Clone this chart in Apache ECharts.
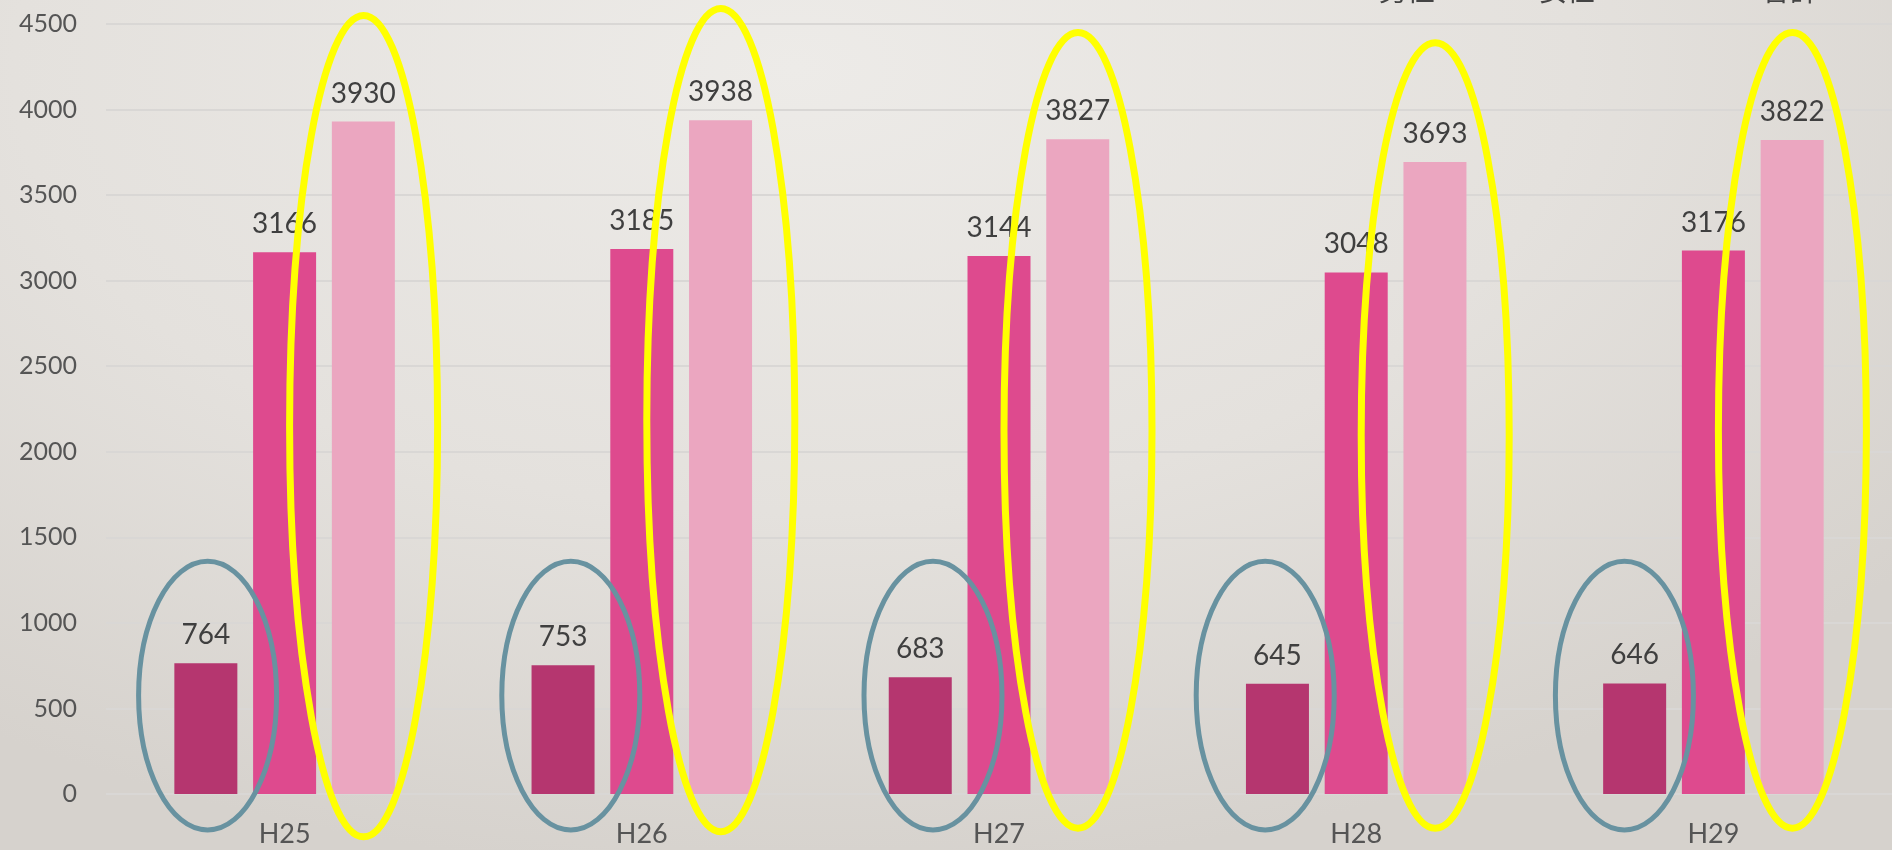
<!DOCTYPE html>
<html>
<head>
<meta charset="utf-8">
<script src="https://cdn.jsdelivr.net/npm/echarts@6/dist/echarts.min.js"></script>
<style>
html,body{margin:0;padding:0;width:1892px;height:850px;overflow:hidden;
background:radial-gradient(ellipse 75% 95% at 42% 8%, #edebe8 0%, #e4e1dd 55%, #d6d2cd 100%);}
#c{width:1892px;height:850px;}
</style>
</head>
<body>
<div id="c"></div>
<script>
const categories = ['H25','H26','H27','H28','H29'];
const seriesNames = ['男性','女性','合計'];
const valuesA = [764, 753, 683, 645, 646];
const valuesB = [3166, 3185, 3144, 3048, 3176];
const valuesTotal = [3930, 3938, 3827, 3693, 3822];
const yTicks = [0,500,1000,1500,2000,2500,3000,3500,4000,4500];
// annotation ellipses (value-space extents): [bottom, top]
const blueRings = [[-210,1360],[-210,1360],[-210,1360],[-210,1360],[-210,1360]];
const blueShift = [2, 8, 13, -12, -10];
const yellowRings = [[-250,4550],[-220,4590],[-200,4450],[-200,4390],[-200,4450]];

const chart = echarts.init(document.getElementById('c'), null, {renderer:'canvas'});
const colors = ['#b5366f','#de4a8e','#eba6c0'];
const labelStyle = {show:true, position:'top', distance:14, color:'#3f3f3f', fontSize:28, fontFamily:'Lato'};
const mk = (name, data, i) => ({
  name, type:'bar', data, barWidth:63, barGap:'25%',
  itemStyle:{color:colors[i]}, label:labelStyle, z:2
});
const legendLefts = [1355, 1515, 1738];
chart.setOption({
  animation:false,
  backgroundColor:'transparent',
  textStyle:{fontFamily:'Lato'},
  legend: seriesNames.map((n, i) => ({
    data:[n], top:-29, left:legendLefts[i], itemWidth:14, itemHeight:8,
    textStyle:{fontSize:28, color:'#444', fontFamily:'Noto Sans CJK JP'}
  })),
  grid:{left:106, right:0, top:24, bottom:56, containLabel:false},
  xAxis:{
    type:'category', data:categories,
    axisLine:{show:false}, axisTick:{show:false},
    axisLabel:{color:'#555', fontSize:27, margin:27}
  },
  yAxis:{
    type:'value', min:0, max:4500, interval:500,
    axisLabel:{color:'#555', fontSize:25, margin:29,
      formatter:v => yTicks.includes(v) ? String(v) : ''},
    splitLine:{lineStyle:{color:'#d9d7d5', width:2}}
  },
  series:[mk(seriesNames[0], valuesA, 0), mk(seriesNames[1], valuesB, 1), mk(seriesNames[2], valuesTotal, 2)]
});

// build annotation ellipses from the chart's own scales
const elems = [];
categories.forEach((c, i) => {
  const center = chart.convertToPixel({gridIndex:0}, [i, 0])[0];
  const off = 63 + 16; // bar width + gap
  const b = blueRings[i];
  const bTop = chart.convertToPixel({gridIndex:0}, [i, b[1]])[1];
  const bBot = chart.convertToPixel({gridIndex:0}, [i, b[0]])[1];
  elems.push({type:'ellipse', z:100, shape:{cx:center - off + blueShift[i], cy:(bTop+bBot)/2, rx:69, ry:(bBot-bTop)/2},
    style:{fill:null, stroke:'#6892a0', lineWidth:5}});
  const y = yellowRings[i];
  const yTop = chart.convertToPixel({gridIndex:0}, [i, y[1]])[1];
  const yBot = chart.convertToPixel({gridIndex:0}, [i, y[0]])[1];
  elems.push({type:'ellipse', z:101, shape:{cx:center + off, cy:(yTop+yBot)/2, rx:74, ry:(yBot-yTop)/2},
    style:{fill:null, stroke:'#ffff00', lineWidth:7}});
});
chart.setOption({graphic:elems});
</script>
</body>
</html>
